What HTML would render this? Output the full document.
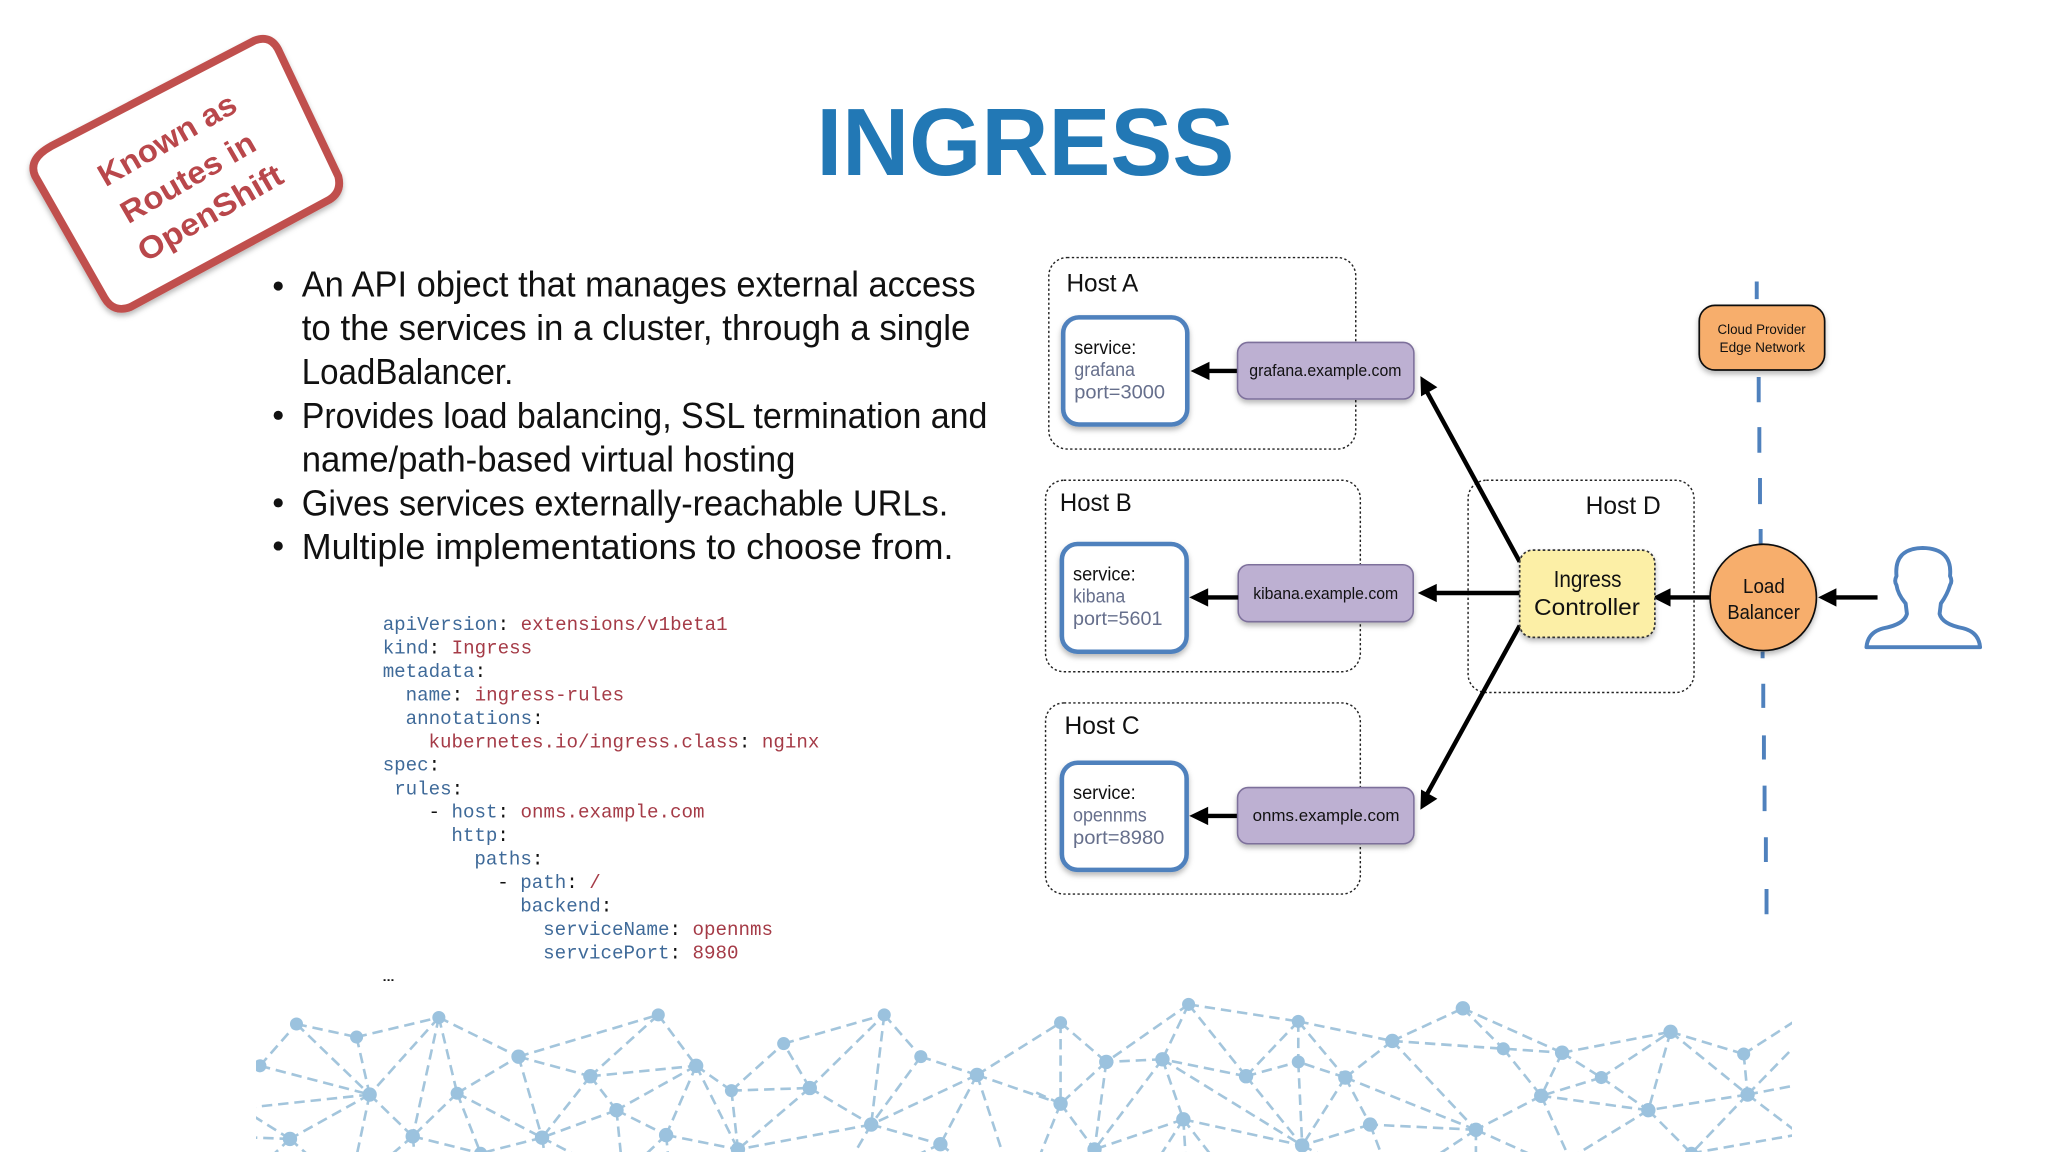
<!DOCTYPE html>
<html><head><meta charset="utf-8"><title>Ingress</title>
<style>html,body{margin:0;padding:0;background:#fff;width:2048px;height:1152px;overflow:hidden}svg{display:block}
text{font-family:"Liberation Sans",sans-serif}
.b{font-size:28px;fill:#111}
.c{font-family:"Liberation Mono",monospace;font-size:14.68px;fill:#3f6a99}
.c tspan{fill:#a53b47}.c tspan.k{fill:#111}
.s{font-size:14.5px;fill:#111}.v{font-size:14.5px;fill:#666f8c}
.h{font-size:19px;fill:#111}.p{font-size:13px;fill:#111}
</style></head><body>
<svg xmlns="http://www.w3.org/2000/svg" width="2048" height="1152" viewBox="0 0 1568 882">
<defs>
<filter id="sh" x="-20%" y="-20%" width="140%" height="140%"><feDropShadow dx="0" dy="2.5" stdDeviation="2" flood-color="#000" flood-opacity=".28"/></filter>
<clipPath id="net"><rect x="196" y="750" width="1176" height="132"/></clipPath>
</defs>

<!-- title -->
<text x="625" y="134" font-size="73" font-weight="bold" fill="#2278b5" textLength="320" lengthAdjust="spacingAndGlyphs">INGRESS</text>

<!-- stamp -->
<path d="M39,112 L195,31 Q208,26 214,40 L259,135 Q262,147 252,153 L100,235 Q87,240 80,228 L27,135 Q21,122 39,112Z" fill="#fff" stroke="#c0504d" stroke-width="6" stroke-linejoin="round" filter="url(#sh)"/>
<g font-size="24" font-weight="bold" fill="#b9474b" text-anchor="middle">
<text transform="translate(132,114) rotate(-30)" textLength="118" lengthAdjust="spacingAndGlyphs">Known as</text>
<text transform="translate(148,143) rotate(-30)" textLength="115" lengthAdjust="spacingAndGlyphs">Routes in</text>
<text transform="translate(165,170) rotate(-30)" textLength="124" lengthAdjust="spacingAndGlyphs">OpenShift</text>
</g>

<!-- bullets -->
<g fill="#111"><circle cx="213" cy="219" r="3.5"/><circle cx="213" cy="318" r="3.5"/><circle cx="213" cy="385" r="3.5"/><circle cx="213" cy="418" r="3.5"/></g>
<text class="b" x="231" y="227" textLength="516" lengthAdjust="spacingAndGlyphs">An API object that manages external access</text>
<text class="b" x="231" y="260.5" textLength="512" lengthAdjust="spacingAndGlyphs">to the services in a cluster, through a single</text>
<text class="b" x="231" y="294" textLength="162" lengthAdjust="spacingAndGlyphs">LoadBalancer.</text>
<text class="b" x="231" y="327.5" textLength="525" lengthAdjust="spacingAndGlyphs">Provides load balancing, SSL termination and</text>
<text class="b" x="231" y="361" textLength="378" lengthAdjust="spacingAndGlyphs">name/path-based virtual hosting</text>
<text class="b" x="231" y="394.5" textLength="495" lengthAdjust="spacingAndGlyphs">Gives services externally-reachable URLs.</text>
<text class="b" x="231" y="428" textLength="499" lengthAdjust="spacingAndGlyphs">Multiple implementations to choose from.</text>

<!-- code -->
<g class="c" xml:space="preserve">
<text class="c" x="293" y="482.4">apiVersion<tspan class="k">: </tspan><tspan>extensions/v1beta1</tspan></text>
<text class="c" x="293" y="500.4">kind<tspan class="k">: </tspan><tspan>Ingress</tspan></text>
<text class="c" x="293" y="518.3">metadata<tspan class="k">:</tspan></text>
<text class="c" x="310.6" y="536.3">name<tspan class="k">: </tspan><tspan>ingress-rules</tspan></text>
<text class="c" x="310.6" y="554.2">annotations<tspan class="k">:</tspan></text>
<text class="c" x="328.1" y="572.2"><tspan>kubernetes.io/ingress.class</tspan><tspan class="k">: </tspan><tspan>nginx</tspan></text>
<text class="c" x="293" y="590.1">spec<tspan class="k">:</tspan></text>
<text class="c" x="301.8" y="608.1">rules<tspan class="k">:</tspan></text>
<text class="c" x="328.1" y="626"><tspan class="k">- </tspan>host<tspan class="k">: </tspan><tspan>onms.example.com</tspan></text>
<text class="c" x="345.6" y="644">http<tspan class="k">:</tspan></text>
<text class="c" x="363.2" y="661.9">paths<tspan class="k">:</tspan></text>
<text class="c" x="380.7" y="679.9"><tspan class="k">- </tspan>path<tspan class="k">: </tspan><tspan>/</tspan></text>
<text class="c" x="398.3" y="697.8">backend<tspan class="k">:</tspan></text>
<text class="c" x="415.8" y="715.8">serviceName<tspan class="k">: </tspan><tspan>opennms</tspan></text>
<text class="c" x="415.8" y="733.7">servicePort<tspan class="k">: </tspan><tspan>8980</tspan></text>
</g>
<text x="293" y="751" font-size="9" font-weight="bold" fill="#111" textLength="9" lengthAdjust="spacingAndGlyphs">...</text>

<!-- network -->
<g clip-path="url(#net)">
<path fill="none" stroke="#a3c5dc" stroke-width="2" stroke-dasharray="8 4.5" d="
M199,816L227,784 M199,816L283,838 M227,784L273,794 M227,784L283,838 M273,794L336,779 M273,794L283,838 M336,779L283,838 M336,779L316,870 M336,779L350,837 M336,779L397,809
M283,838L190,848 M283,838L316,870 M283,838L222,872 M283,838L273,885 M350,837L397,809 M350,837L316,870 M350,837L415,871 M350,837L368,883
M397,809L504,777 M397,809L452,824 M397,809L415,871 M452,824L533,816 M452,824L415,871 M452,824L472,850 M504,777L452,824 M504,777L533,816
M533,816L560,835 M533,816L472,850 M533,816L510,869 M533,816L565,880 M560,835L600,799 M560,835L620,833 M560,835L565,880 M620,833L600,799 M620,833L677,777 M620,833L667,861 M620,833L565,880
M600,799L677,777 M677,777L705,809 M677,777L667,861 M705,809L748,823 M705,809L667,861 M748,823L667,861 M748,823L720,876 M748,823L770,890 M748,823L812,783 M748,823L812,845
M667,861L565,880 M667,861L720,876 M667,861L650,890 M472,850L415,871 M472,850L510,869 M472,850L476,890 M415,871L368,883 M415,871L418,890 M415,871L455,892
M316,870L368,883 M316,870L318,890 M316,870L295,888 M222,872L190,852 M222,872L195,871 M222,872L205,888 M222,872L240,888
M510,869L565,880 M510,869L512,890 M510,869L490,888 M720,876L690,890 M720,876L735,888
M812,783L847,813 M812,783L812,845 M910,769L847,813 M910,769L890,811 M910,769L954,824 M910,769L994,782 M994,782L954,824 M994,782L994,813 M994,782L1030,825 M994,782L1066,797
M1066,797L1151,803 M1066,797L1196,806 M1066,797L1030,825 M1066,797L1130,865 M1066,797L1120,772 M1120,772L1151,803 M1120,772L1196,806 M1151,803L1180,839
M1196,806L1180,839 M1196,806L1226,825 M1196,806L1279,790 M1226,825L1279,790 M1226,825L1180,839 M1226,825L1262,850 M1279,790L1335,807 M1279,790L1338,838 M1279,790L1262,850
M1335,807L1338,838 M1335,807L1380,778 M1338,838L1380,830 M1338,838L1380,795 M1338,838L1380,870 M1338,838L1262,850 M1338,838L1295,883 M1262,850L1295,883 M1262,850L1205,885 M1295,883L1380,868
M1262,850L1180,839 M1180,839L1130,865 M1180,839L1203,890 M1130,865L1130,890 M1130,865L1095,888 M1130,865L1049,861 M1130,865L1030,825 M1130,865L1190,892
M1030,825L994,813 M1030,825L1049,861 M1030,825L997,877 M954,824L994,813 M954,824L890,811 M954,824L997,877 M994,813L997,877 M1049,861L997,877 M1049,861L1060,890
M890,811L847,813 M890,811L997,877 M890,811L906,857 M890,811L838,880 M847,813L838,880 M847,813L812,845 M812,845L838,880 M812,845L790,835 M812,845L796,885
M906,857L997,877 M906,857L838,880 M906,857L885,890 M906,857L908,890 M906,857L930,888 M997,877L1015,886"/>
<g fill="#9bc2de">
<circle cx="199" cy="816" r="5"/><circle cx="227" cy="784" r="5"/><circle cx="273" cy="794" r="5"/><circle cx="336" cy="779" r="5"/><circle cx="283" cy="838" r="5.5"/><circle cx="350" cy="837" r="5"/><circle cx="397" cy="809" r="5.5"/><circle cx="452" cy="824" r="5.5"/><circle cx="504" cy="777" r="5"/><circle cx="533" cy="816" r="5.5"/><circle cx="560" cy="835" r="5"/><circle cx="620" cy="833" r="5.5"/><circle cx="600" cy="799" r="5"/><circle cx="677" cy="777" r="5"/><circle cx="705" cy="809" r="5"/><circle cx="748" cy="823" r="5.5"/><circle cx="667" cy="861" r="5.5"/><circle cx="472" cy="850" r="5.5"/><circle cx="415" cy="871" r="5.5"/><circle cx="316" cy="870" r="5.5"/><circle cx="222" cy="872" r="5.5"/><circle cx="510" cy="869" r="5.5"/><circle cx="565" cy="880" r="5.5"/><circle cx="368" cy="883" r="5"/><circle cx="720" cy="876" r="5.5"/>
<circle cx="812" cy="783" r="5"/><circle cx="847" cy="813" r="5.5"/><circle cx="890" cy="811" r="5.5"/><circle cx="910" cy="769" r="5"/><circle cx="954" cy="824" r="5.5"/><circle cx="994" cy="813" r="5"/><circle cx="994" cy="782" r="5"/><circle cx="1030" cy="825" r="5.5"/><circle cx="1066" cy="797" r="5.5"/><circle cx="1120" cy="772" r="5.5"/><circle cx="1151" cy="803" r="5"/><circle cx="1196" cy="806" r="5.5"/><circle cx="1226" cy="825" r="5"/><circle cx="1279" cy="790" r="5.5"/><circle cx="1335" cy="807" r="5"/><circle cx="1338" cy="838" r="5.5"/><circle cx="1262" cy="850" r="5.5"/><circle cx="1180" cy="839" r="5.5"/><circle cx="1130" cy="865" r="5.5"/><circle cx="1049" cy="861" r="5.5"/><circle cx="997" cy="877" r="5.5"/><circle cx="906" cy="857" r="5.5"/><circle cx="838" cy="880" r="5.5"/><circle cx="812" cy="845" r="5.5"/><circle cx="1295" cy="883" r="5"/>
</g>
</g>

<!-- host boxes -->
<g fill="none" stroke="#222" stroke-width="1.1" stroke-dasharray="1.8 1.8">
<rect x="803" y="197.2" width="235" height="146.6" rx="14"/>
<rect x="800.5" y="367.7" width="241" height="146.6" rx="14"/>
<rect x="800.5" y="538.2" width="241" height="146.3" rx="14"/>
<rect x="1124" y="367.7" width="173" height="162.5" rx="14"/>
</g>
<text class="h" x="816.5" y="223" textLength="55" lengthAdjust="spacingAndGlyphs">Host A</text>
<text class="h" x="811.5" y="391.3" textLength="55" lengthAdjust="spacingAndGlyphs">Host B</text>
<text class="h" x="815" y="562" textLength="57.5" lengthAdjust="spacingAndGlyphs">Host C</text>
<text class="h" x="1214" y="393.4" textLength="57.5" lengthAdjust="spacingAndGlyphs">Host D</text>

<!-- dashed edge line -->
<path fill="none" stroke="#4f81bd" stroke-width="3" d="M1345,215.5V229 M1346.5,288.6V308 M1347,327V346.6 M1347.5,366V386 M1348,405V418 M1349.5,499V504 M1350,523.5V542 M1350.5,563V581.5 M1351,601.5V621 M1352,641V660 M1352.5,680.6V700"/>

<!-- service boxes -->
<g fill="#fff" stroke="#4f81bd" stroke-width="3.5" filter="url(#sh)">
<rect x="814" y="243" width="95" height="82" rx="12"/>
<rect x="813" y="416.5" width="95.5" height="82.5" rx="12"/>
<rect x="813" y="584" width="95.5" height="82" rx="12"/>
</g>
<text class="s" x="822.5" y="271" textLength="47.5" lengthAdjust="spacingAndGlyphs">service:</text>
<text class="v" x="822.5" y="288" textLength="46.5" lengthAdjust="spacingAndGlyphs">grafana</text>
<text class="v" x="822.5" y="305" textLength="69.5" lengthAdjust="spacingAndGlyphs">port=3000</text>
<text class="s" x="821.5" y="444.4" textLength="48" lengthAdjust="spacingAndGlyphs">service:</text>
<text class="v" x="821.5" y="461.3" textLength="40" lengthAdjust="spacingAndGlyphs">kibana</text>
<text class="v" x="821.5" y="478.5" textLength="68.5" lengthAdjust="spacingAndGlyphs">port=5601</text>
<text class="s" x="821.5" y="611.7" textLength="48" lengthAdjust="spacingAndGlyphs">service:</text>
<text class="v" x="821.5" y="629" textLength="56.5" lengthAdjust="spacingAndGlyphs">opennms</text>
<text class="v" x="821.5" y="646" textLength="70" lengthAdjust="spacingAndGlyphs">port=8980</text>

<!-- purple boxes -->
<g fill="#bdb0d2" stroke="#7d6f9b" stroke-width="1.2" filter="url(#sh)">
<rect x="947.5" y="262.2" width="135" height="43.3" rx="8"/>
<rect x="948" y="432.4" width="134" height="43.6" rx="8"/>
<rect x="947.5" y="603" width="135" height="43" rx="8"/>
</g>
<text class="p" x="956.5" y="288" textLength="116.5" lengthAdjust="spacingAndGlyphs">grafana.example.com</text>
<text class="p" x="959.5" y="458.8" textLength="111" lengthAdjust="spacingAndGlyphs">kibana.example.com</text>
<text class="p" x="959" y="628.6" textLength="112.5" lengthAdjust="spacingAndGlyphs">onms.example.com</text>

<!-- arrows -->
<g stroke="#000" stroke-width="3.4" fill="none">
<path d="M947,284H922"/><path d="M948,457.4H921"/><path d="M947,624.7H921"/>
<path d="M1163.5,430L1092,299"/><path d="M1163.5,454H1096"/><path d="M1163.5,479L1092,609"/>
<path d="M1309.5,457.4H1276"/><path d="M1437.5,457.4H1403"/>
</g>
<g fill="#000">
<path d="M911.5,284L926,277V291Z"/><path d="M910.5,457.4L925,450.4V464.4Z"/><path d="M910.5,624.7L925,617.7V631.7Z"/>
<path d="M1087.5,288L1100.5,296.5L1088,303.5Z"/>
<path d="M1085.5,454L1100,447V461Z"/>
<path d="M1087.5,620L1088,604.5L1100.5,611.5Z"/>
<path d="M1265,457.4L1279,450.4V464.4Z"/><path d="M1392,457.4L1406,450.4V464.4Z"/>
</g>

<!-- ingress controller -->
<rect x="1163.5" y="421.2" width="103.5" height="66.8" rx="10" fill="#fcefa6" stroke="#333" stroke-width="1.3" stroke-dasharray="2 1.8" filter="url(#sh)"/>
<text x="1189.5" y="449.6" font-size="18" fill="#111" textLength="52" lengthAdjust="spacingAndGlyphs">Ingress</text>
<text x="1174.5" y="470.7" font-size="18" fill="#111" textLength="81" lengthAdjust="spacingAndGlyphs">Controller</text>

<!-- load balancer -->
<circle cx="1350" cy="457.4" r="40.7" fill="#f7ae6c" stroke="#111" stroke-width="1.3" filter="url(#sh)"/>
<text x="1334.5" y="454" font-size="15.5" fill="#111" textLength="32" lengthAdjust="spacingAndGlyphs">Load</text>
<text x="1322.5" y="474" font-size="15.5" fill="#111" textLength="55.5" lengthAdjust="spacingAndGlyphs">Balancer</text>

<!-- cloud provider -->
<rect x="1301" y="233.8" width="96" height="49.5" rx="12" fill="#f7ae6c" stroke="#111" stroke-width="1.3" filter="url(#sh)"/>
<text x="1315" y="255.8" font-size="10.5" fill="#111" textLength="67.5" lengthAdjust="spacingAndGlyphs">Cloud Provider</text>
<text x="1316.5" y="269.5" font-size="10.5" fill="#111" textLength="65.5" lengthAdjust="spacingAndGlyphs">Edge Network</text>

<!-- person -->
<path d="M1429,495.5Q1430,484 1442,481Q1458,478 1460,470L1459,462Q1453,455 1452,448Q1450,445 1452,441Q1450,420 1472,419.5Q1495,420 1493,441Q1495,445 1493,448Q1491,455 1486,462L1485,470Q1487,478 1503,481Q1515,484 1516,495.5Z" fill="#fff" stroke="#4f81bd" stroke-width="3" stroke-linejoin="round"/>
</svg>
</body></html>
